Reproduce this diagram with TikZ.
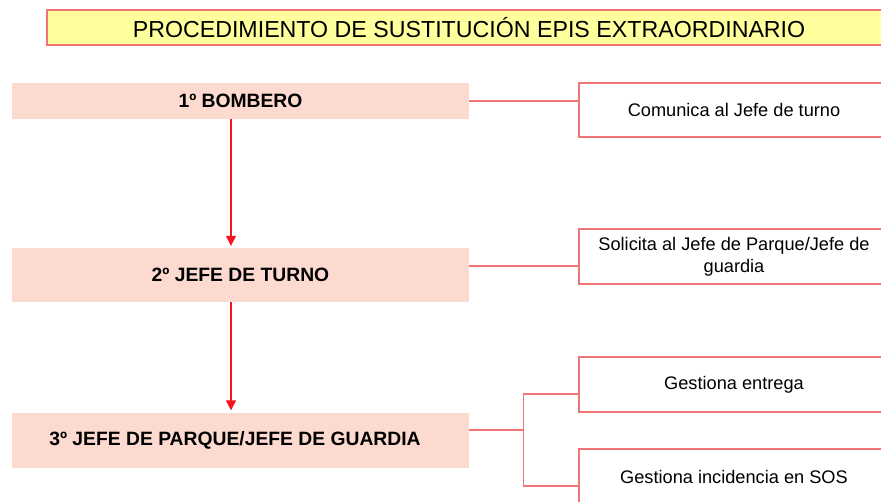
\documentclass[tikz,border=0pt]{standalone}
\usepackage{fontspec}
\setmainfont{Liberation Sans}
\usetikzlibrary{arrows.meta}
\definecolor{lachs}{HTML}{FDDAD0}
\definecolor{rahmen}{HTML}{F07676}
\definecolor{gelb}{HTML}{FFFF9E}
\definecolor{rot}{HTML}{F4141E}
\begin{document}
\begin{tikzpicture}[x=1pt, y=-1pt,
	titel/.style={draw=rahmen, fill=gelb, line width=1.2pt, minimum width=844pt, minimum height=35pt, inner sep=0pt, font=\fontsize{23.2}{26}\selectfont},
	stufe/.style={fill=lachs, minimum width=457pt, inner sep=0pt, font=\bfseries\fontsize{19.3}{22}\selectfont},
	aktion/.style={draw=rahmen, fill=white, line width=1.4pt, minimum width=310pt, inner sep=0pt, align=center, font=\fontsize{18.2}{22}\selectfont},
	linie/.style={draw=rahmen, line width=1.4pt},
	pfeil/.style={color=rot, line width=1.3pt, -{Triangle[width=10pt,length=10pt]}}]
		\clip (0, 0) rectangle (881, 501);
		\fill[white] (0, 0) rectangle (881, 501);
		% Titel
		\node[titel] (kopf) at (469, 27.5) {PROCEDIMIENTO DE SUSTITUCIÓN EPIS EXTRAORDINARIO};
		% Linke Kaesten
		\node[stufe, minimum height=36pt] (b1) at (240.5, 101) {1º BOMBERO};
		\node[stufe, minimum height=54pt] (b2) at (240.5, 275) {2º JEFE DE TURNO};
		\node[stufe, minimum height=55pt] (b3) at (240.5, 440) {\hspace*{-11pt}3º JEFE DE PARQUE/JEFE DE GUARDIA};
		% Rechte Kaesten
		\node[aktion, minimum height=54pt] (r1) at (734, 110) {Comunica al Jefe de turno};
		\node[aktion, minimum height=55pt] (r2) at (734, 256.5) {Solicita al Jefe de Parque/Jefe de\\guardia};
		\node[aktion, minimum height=55pt] (r3) at (734, 384.5) {Gestiona entrega};
		\node[aktion, minimum height=55pt] (r4) at (734, 476.5) {Gestiona incidencia en SOS};
		% Pfeile
		\draw[pfeil] ([xshift=-9.5pt]b1.south) -- ([xshift=-9.5pt, yshift=2pt]b2.north);
		\draw[pfeil] ([xshift=-9.5pt]b2.south) -- ([xshift=-9.5pt, yshift=2pt]b3.north);
		% Linien
		\coordinate (s2) at ([yshift=9pt]b2.east);
		\coordinate (s3) at ([yshift=10pt]b3.east);
		\coordinate (gabel) at ([xshift=54.5pt]s3);
		\draw[linie] (b1.east) -- (b1.east -| r1.west);
		\draw[linie] (s2) -- (s2 -| r2.west);
		\draw[linie] (s3) -- (gabel);
		\draw[linie] ([yshift=-9.5pt]r3.west) -| (gabel) |- ([yshift=-9.5pt]r4.west);
\end{tikzpicture}
\end{document}
